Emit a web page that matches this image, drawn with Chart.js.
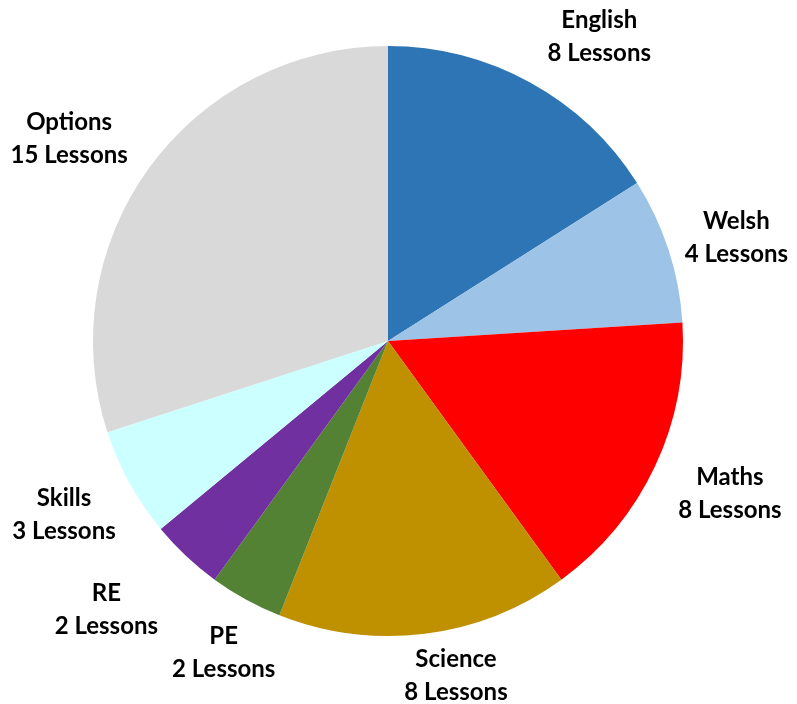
<!DOCTYPE html>
<html>
<head>
<meta charset="utf-8">
<script src="https://cdn.jsdelivr.net/npm/chart.js@4.4.1/dist/chart.umd.min.js"></script>
<style>
  html, body { margin: 0; padding: 0; background: #fff; }
  #wrap { width: 797px; height: 704px; }
</style>
</head>
<body>
<div id="wrap"><canvas id="lessons"></canvas></div>
<script>
var subjects = ["English", "Welsh", "Maths", "Science", "PE", "RE", "Skills", "Options"];
var lessons = [8, 4, 8, 8, 2, 2, 3, 15];
var colors = ["#2E75B6", "#9DC3E6", "#FF0000", "#BF9000", "#548235", "#7030A0", "#CCFFFF", "#D9D9D9"];

// small hand tweaks so the labels sit where Excel put them
var labelNudge = [[31, 3], [-3, 4], [5, 4], [22, -9], [16, 4], [-17, 8], [4, 5], [-5, 6]];

// outside-end labels, placed roughly the way Excel does it
var outsideLabels = {
    id: "outsideLabels",
    afterDatasetsDraw: function (chart) {
        var ctx = chart.ctx;
        var arcs = chart.getDatasetMeta(0).data;
        var lineH = 33;
        ctx.save();
        ctx.font = "bold 24px Lato";
        ctx.fillStyle = "#000";
        ctx.textAlign = "center";
        ctx.textBaseline = "middle";
        arcs.forEach(function (arc, i) {
            var p = arc.getProps(["x", "y", "startAngle", "endAngle", "outerRadius"], true);
            var a = (p.startAngle + p.endAngle) / 2;
            var c = Math.cos(a), s = Math.sin(a);
            var lines = [subjects[i], lessons[i] + " Lessons"];
            var w = Math.max.apply(null, lines.map(function (t) { return ctx.measureText(t).width; }));
            var hw = w / 2 + 2, hh = lineH;
            var r = p.outerRadius + 18;
            var m = Math.max(Math.abs(c), Math.abs(s));
            var cx = p.x + c * r + hw * c / m + labelNudge[i][0];
            var cy = p.y + s * r + hh * s / m + labelNudge[i][1];
            ctx.fillText(lines[0], cx, cy - lineH / 2);
            ctx.fillText(lines[1], cx, cy + lineH / 2);
        });
        ctx.restore();
    }
};

new Chart(document.getElementById("lessons"), {
    type: "pie",
    data: {
        labels: subjects,
        datasets: [{
            data: lessons,
            backgroundColor: colors,
            borderWidth: 0
        }]
    },
    options: {
        responsive: true,
        maintainAspectRatio: false,
        animation: false,
        layout: { padding: { left: 93, right: 114, top: 46, bottom: 68 } },
        plugins: {
            legend: { display: false },
            tooltip: { enabled: false }
        }
    },
    plugins: [outsideLabels]
});
</script>
</body>
</html>
